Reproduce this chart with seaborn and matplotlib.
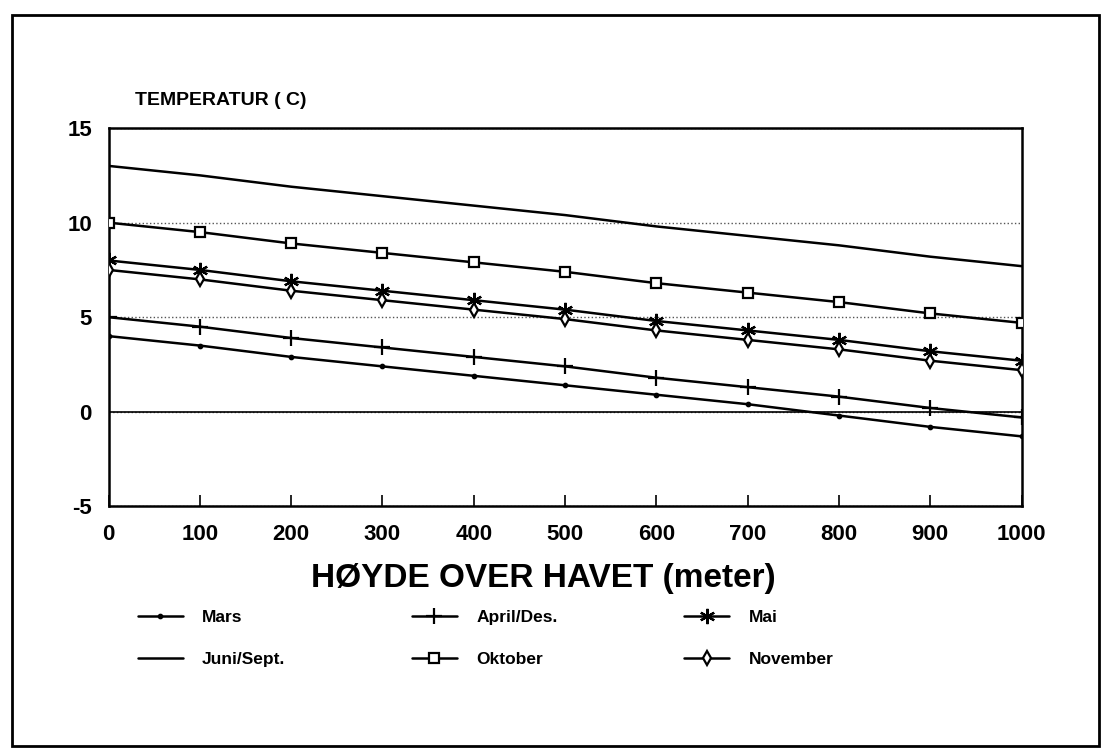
import matplotlib
matplotlib.use("Agg")
import matplotlib.pyplot as plt
import seaborn as sns
from matplotlib.patches import Rectangle

# values (temperature in C at each 100 m)
hoyde = [0, 100, 200, 300, 400, 500, 600, 700, 800, 900, 1000]
mars = [4.0, 3.5, 2.9, 2.4, 1.9, 1.4, 0.9, 0.4, -0.2, -0.8, -1.3]
april_des = [5.0, 4.5, 3.9, 3.4, 2.9, 2.4, 1.8, 1.3, 0.8, 0.2, -0.3]
mai = [8.0, 7.5, 6.9, 6.4, 5.9, 5.4, 4.8, 4.3, 3.8, 3.2, 2.7]
oktober = [10.0, 9.5, 8.9, 8.4, 7.9, 7.4, 6.8, 6.3, 5.8, 5.2, 4.7]
november = [7.5, 7.0, 6.4, 5.9, 5.4, 4.9, 4.3, 3.8, 3.3, 2.7, 2.2]
juni_sept = [13.0, 12.5, 11.9, 11.4, 10.9, 10.4, 9.8, 9.3, 8.8, 8.2, 7.7]

xticks = [0, 100, 200, 300, 400, 500, 600, 700, 800, 900, 1000]
yticks = [-5, 0, 5, 10, 15]

sns.set_style("white")
plt.rcParams["font.family"] = ["Liberation Sans", "DejaVu Sans"]
plt.rcParams["text.color"] = "black"
plt.rcParams["xtick.color"] = "black"
plt.rcParams["ytick.color"] = "black"

fig = plt.figure(figsize=(11.08, 7.49), dpi=100)
ax = fig.add_axes([0.098, 0.324, 0.824, 0.505])

# series: (label, values, marker, size, fill)
series = [
    ("Mars", mars, ".", 5, "black"),
    ("Juni/Sept.", juni_sept, None, 0, "black"),
    ("April/Des.", april_des, "+", 12, "black"),
    ("Oktober", oktober, "s", 7, "white"),
    ("Mai", mai, (6, 2, 0), 11, "black"),
    ("November", november, "d", 7, "white"),
]

for name, vals, mk, ms, fc in series:
    sns.lineplot(x=hoyde, y=vals, ax=ax, color="black", linewidth=1.8,
                 marker=mk, markersize=ms, markerfacecolor=fc,
                 markeredgecolor="black", markeredgewidth=1.6,
                 label=name, zorder=3)

ax.set_xlim(0, 1000)
ax.set_ylim(-5, 15)
ax.set_xticks(xticks)
ax.set_yticks(yticks)
ax.set_xticklabels([str(v) for v in xticks], fontsize=16, fontweight="bold")
ax.set_yticklabels([str(v) for v in yticks], fontsize=16, fontweight="bold")
ax.tick_params(axis="x", direction="in", length=8, width=1.2, pad=13, bottom=True)
ax.tick_params(axis="y", length=0, pad=12)
ax.grid(axis="y", linestyle=":", color="#555555", linewidth=1)
ax.axhline(0, color="black", linewidth=1.2, zorder=2)
for s in ax.spines.values():
    s.set_color("black")
    s.set_linewidth(1.8)
ax.set_xlabel("")
ax.set_ylabel("")

fig.text(0.122, 0.866, "TEMPERATUR ( C)", fontsize=14, fontweight="bold",
         va="center", ha="left")
fig.text(0.49, 0.228, "HØYDE OVER HAVET (meter)", fontsize=24,
         fontweight="bold", ha="center", va="center")

handles, labels = ax.get_legend_handles_labels()
ax.get_legend().remove()
fig.legend(handles, labels, ncol=3, loc="upper left",
           bbox_to_anchor=(0.11, 0.207), frameon=False,
           prop={"size": 12.5, "weight": "bold"}, handlelength=2.6,
           labelspacing=1.55, columnspacing=7.3, handletextpad=1.1)

# outer frame of the scanned page
fig.patches.append(Rectangle((0.011, 0.004), 0.981, 0.976, transform=fig.transFigure,
                             fill=False, edgecolor="black", linewidth=2))

fig.savefig("out.png", dpi=100)
